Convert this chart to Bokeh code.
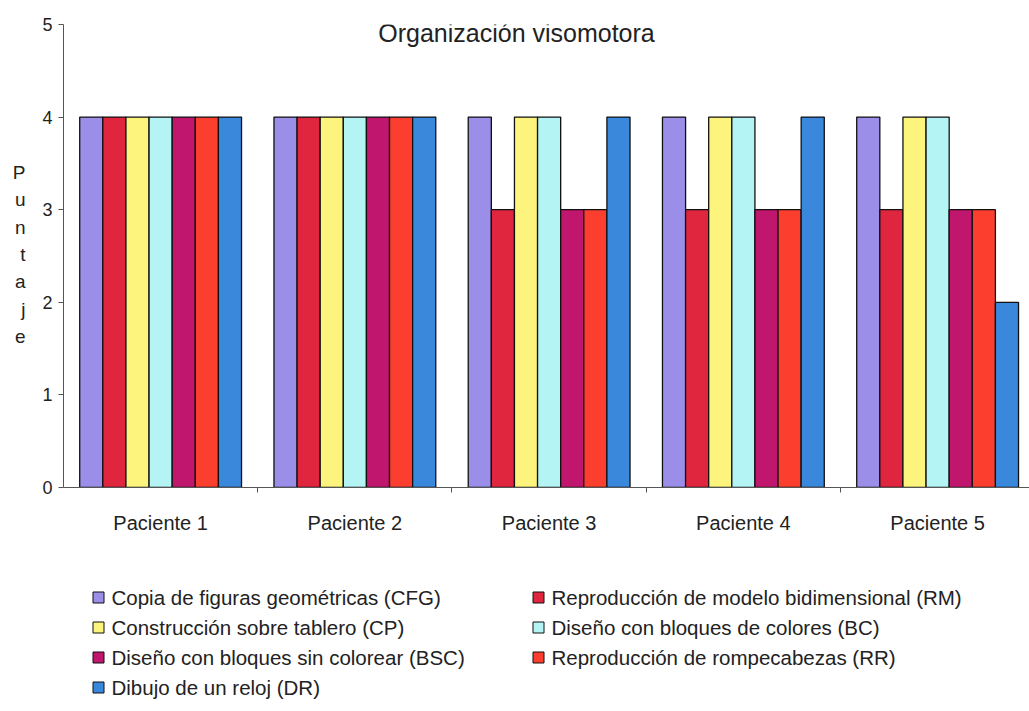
from bokeh.plotting import figure
from bokeh.models import (ColumnDataSource, Range1d, FixedTicker, Label, LinearAxis)
from bokeh.layouts import column
from bokeh.transform import dodge
from bokeh.core.properties import value
from bokeh.embed import file_html
from bokeh.resources import INLINE

pacientes = ["Paciente 1", "Paciente 2", "Paciente 3", "Paciente 4", "Paciente 5"]
series = [
    "Copia de figuras geométricas (CFG)",
    "Reproducción de modelo bidimensional (RM)",
    "Construcción sobre tablero (CP)",
    "Diseño con bloques de colores (BC)",
    "Diseño con bloques sin colorear (BSC)",
    "Reproducción de rompecabezas (RR)",
    "Dibujo de un reloj (DR)",
]
CFG = [4, 4, 4, 4, 4]
RM = [4, 4, 3, 3, 3]
CP = [4, 4, 4, 4, 4]
BC = [4, 4, 4, 4, 4]
BSC = [4, 4, 3, 3, 3]
RR = [4, 4, 3, 3, 3]
DR = [4, 4, 4, 4, 2]
keys = ["CFG", "RM", "CP", "BC", "BSC", "RR", "DR"]
values_list = [CFG, RM, CP, BC, BSC, RR, DR]
colors = ["#9b8ee8", "#e0253e", "#fcf47c", "#b5f4f4", "#c0166e", "#fc3e2e", "#3a88dc"]
y_ticks = [0, 1, 2, 3, 4, 5]
title_text = "Organización visomotora"
ylabel_letters = list("Puntaje")

FONT = "Liberation Sans"
TXT = "#222222"

centers = [i + 0.5 for i in range(len(pacientes))]
data = {"x": centers}
for k, v in zip(keys, values_list):
    data[k] = v
src = ColumnDataSource(data)

MAIN_H = 560
p = figure(width=1029, height=MAIN_H, output_backend="svg", toolbar_location=None,
           x_range=Range1d(0, 4.973), y_range=Range1d(0, 5),
           min_border_left=63, min_border_right=0, min_border_top=24,
           min_border_bottom=MAIN_H - 487)
p.outline_line_color = None
p.xgrid.grid_line_color = None
p.ygrid.grid_line_color = None

bw = 0.119
for j, (k, c) in enumerate(zip(keys, colors)):
    p.vbar(x=dodge("x", (j - 3) * bw, range=p.x_range), top=k, width=bw, bottom=0,
           source=src, fill_color=c, line_color="#111111", line_width=1.3)

# x axis
xa = p.xaxis[0]
xa.ticker = FixedTicker(ticks=centers, minor_ticks=[1, 2, 3, 4])
xa.major_label_overrides = {c: n for c, n in zip(centers, pacientes)}
xa.major_tick_out = 0
xa.major_tick_in = 0
xa.minor_tick_out = 5
xa.minor_tick_in = 0
xa.axis_line_color = "#555555"
xa.minor_tick_line_color = "#555555"
xa.major_label_text_font = FONT
xa.major_label_text_font_size = "20px"
xa.major_label_text_color = TXT
xa.major_label_standoff = 19

ya = p.yaxis[0]
ya.ticker = FixedTicker(ticks=y_ticks)
ya.major_tick_out = 5
ya.major_tick_in = 0
ya.minor_tick_out = 0
ya.minor_tick_in = 0
ya.axis_line_color = "#555555"
ya.major_tick_line_color = "#555555"
ya.major_label_text_font = FONT
ya.major_label_text_font_size = "18px"
ya.major_label_text_color = TXT
ya.major_label_standoff = 6

# stacked vertical y label via an extra, line-less axis
letter_pos = [3.40 - i * 0.295 for i in range(len(ylabel_letters))]
la = LinearAxis(ticker=FixedTicker(ticks=letter_pos, minor_ticks=[]),
                major_label_overrides={y: ch for y, ch in zip(letter_pos, ylabel_letters)})
la.axis_line_color = None
la.major_tick_line_color = None
la.minor_tick_line_color = None
la.major_tick_out = 0
la.major_label_standoff = 14
la.major_label_text_font = FONT
la.major_label_text_font_size = "19px"
la.major_label_text_color = TXT
p.add_layout(la, "left")

# title
p.add_layout(Label(x=2.332, y=4.905, text=title_text, text_align="center",
                   text_baseline="middle", text_font=FONT, text_font_size="25px",
                   text_color=TXT))

# legend panel: a second, axis-less figure (frame aligned with the main frame,
# coordinates equal to page pixels, y running downward)
LEG_H = 711 - MAIN_H
lf = figure(width=1029, height=LEG_H, output_backend="svg", toolbar_location=None,
            x_range=Range1d(63, 1029), y_range=Range1d(711, MAIN_H),
            min_border_left=63, min_border_right=0, min_border_top=0, min_border_bottom=0,
            x_axis_type=None, y_axis_type=None)
lf.outline_line_color = None
lf.xgrid.grid_line_color = None
lf.ygrid.grid_line_color = None

gx = [98 + (i % 2) * 440 for i in range(len(series))]
gy = [597 + (i // 2) * 30 for i in range(len(series))]
lsrc = ColumnDataSource(dict(gx=gx, gy=gy, tx=[x + 13 for x in gx], label=series, color=colors))
lf.rect(x="gx", y="gy", width=11, height=11, width_units="screen", height_units="screen",
        fill_color="color", line_color="#111111", line_width=1, source=lsrc)
lf.text(x="tx", y="gy", text="label", source=lsrc, text_align="left", text_baseline="middle",
        text_font=value(FONT), text_font_size="20.5px", text_color=TXT)

open("out.html", "w").write(file_html(column(p, lf, spacing=0), INLINE))
